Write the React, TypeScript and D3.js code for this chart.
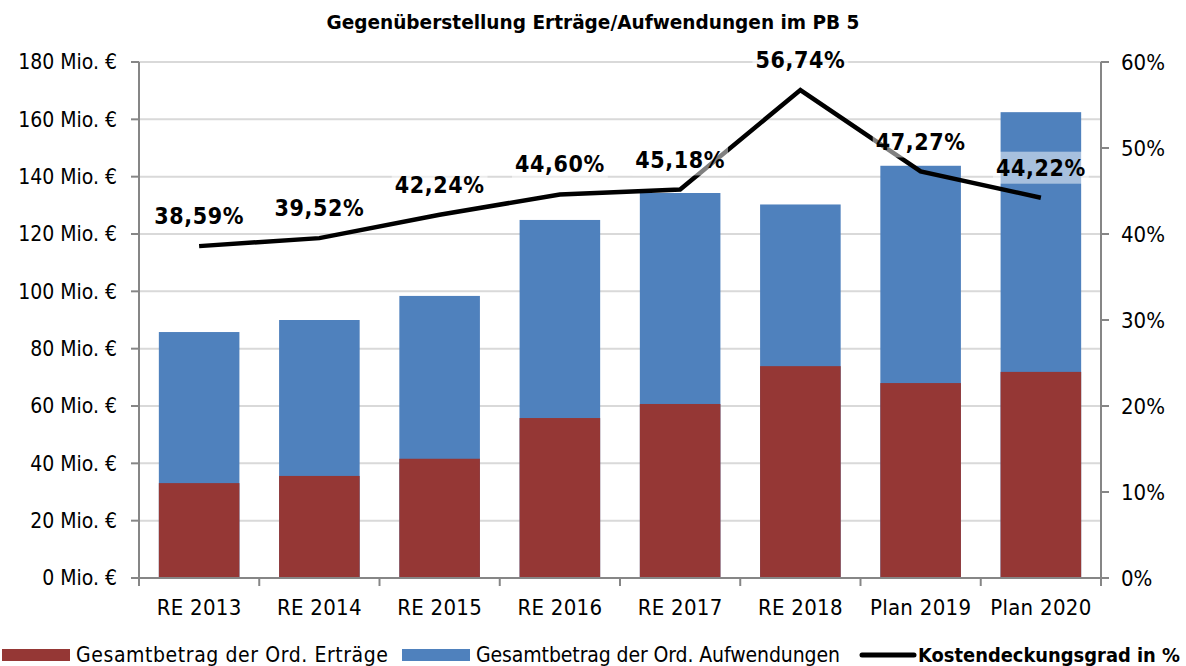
import React, { useEffect, useRef } from "react";
import * as d3 from "d3";

const categories = ["RE 2013", "RE 2014", "RE 2015", "RE 2016", "RE 2017", "RE 2018", "Plan 2019", "Plan 2020"];
const ertraege = [33.1, 35.6, 41.6, 55.8, 60.7, 73.9, 68.0, 71.9];
const aufwendungen = [85.8, 90.0, 98.4, 124.9, 134.3, 130.3, 143.8, 162.5];
const kostendeckung = [38.59, 39.52, 42.24, 44.6, 45.18, 56.74, 47.27, 44.22];
const leftTicks = [0, 20, 40, 60, 80, 100, 120, 140, 160, 180];
const rightTicks = [0, 10, 20, 30, 40, 50, 60];

const W = 1186;
const H = 666;
const FONT = "'DejaVu Sans Condensed', 'DejaVu Sans', sans-serif";

const App = () => {
  const svgRef = useRef<SVGSVGElement>(null);

  useEffect(() => {
    document.body.style.margin = "0";
    const svg = d3.select(svgRef.current);
    svg.selectAll("*").remove();

    const m = { left: 139, right: 85, top: 62, bottom: 88 };
    const x = d3.scaleBand().domain(categories).range([m.left, W - m.right]).paddingInner(0.33).paddingOuter(0.165);
    const xb = d3.scaleBand().domain(categories).range([m.left, W - m.right]);
    const y = d3.scaleLinear().domain([0, 180]).range([H - m.bottom, m.top]);
    const y2 = d3.scaleLinear().domain([0, 60]).range([H - m.bottom, m.top]);

    svg
      .append("text")
      .attr("x", W / 2)
      .attr("y", 29)
      .attr("text-anchor", "middle")
      .style("font-family", FONT)
      .style("font-size", "20px")
      .style("font-weight", "bold")
      .attr("textLength", 533)
      .attr("lengthAdjust", "spacingAndGlyphs")
      .text("Gegenüberstellung Erträge/Aufwendungen im PB 5");

    // gridlines
    svg
      .append("g")
      .selectAll("line")
      .data(leftTicks.filter((d) => d > 0))
      .enter()
      .append("line")
      .attr("x1", m.left)
      .attr("x2", W - m.right)
      .attr("y1", (d) => y(d))
      .attr("y2", (d) => y(d))
      .attr("stroke", "#d9d9d9")
      .attr("stroke-width", 2);

    // bars
    const bars = svg.append("g");
    bars
      .selectAll("rect.auf")
      .data(aufwendungen)
      .enter()
      .append("rect")
      .attr("x", (_, i) => x(categories[i]))
      .attr("width", x.bandwidth())
      .attr("y", (d) => y(d))
      .attr("height", (d) => y(0) - y(d))
      .attr("fill", "#4f81bd");
    bars
      .selectAll("rect.ert")
      .data(ertraege)
      .enter()
      .append("rect")
      .attr("x", (_, i) => x(categories[i]))
      .attr("width", x.bandwidth())
      .attr("y", (d) => y(d))
      .attr("height", (d) => y(0) - y(d))
      .attr("fill", "#953735");

    // axes
    const axisColor = "#868686";
    const gl = svg.append("g");
    gl.append("line").attr("x1", m.left).attr("x2", m.left).attr("y1", y(180)).attr("y2", y(0)).attr("stroke", axisColor).attr("stroke-width", 2);
    gl.append("line").attr("x1", W - m.right).attr("x2", W - m.right).attr("y1", y(180)).attr("y2", y(0)).attr("stroke", axisColor).attr("stroke-width", 2);
    gl.append("line").attr("x1", m.left).attr("x2", W - m.right).attr("y1", y(0)).attr("y2", y(0)).attr("stroke", axisColor).attr("stroke-width", 2);

    leftTicks.forEach((t) => {
      gl.append("line").attr("x1", m.left - 8).attr("x2", m.left).attr("y1", y(t)).attr("y2", y(t)).attr("stroke", axisColor).attr("stroke-width", 2);
      gl.append("text")
        .attr("x", m.left - 22)
        .attr("y", y(t))
        .attr("dy", "0.35em")
        .attr("text-anchor", "end")
        .style("font-family", FONT)
        .style("font-size", "21px")
        .text(`${t} Mio. €`);
    });
    rightTicks.forEach((t) => {
      gl.append("line").attr("x1", W - m.right).attr("x2", W - m.right + 8).attr("y1", y2(t)).attr("y2", y2(t)).attr("stroke", axisColor).attr("stroke-width", 2);
      gl.append("text")
        .attr("x", W - m.right + 20)
        .attr("y", y2(t))
        .attr("dy", "0.35em")
        .style("font-family", FONT)
        .style("font-size", "22px")
        .text(`${t}%`);
    });
    const bounds = categories.map((c) => xb(c)).concat([W - m.right]);
    bounds.forEach((b) => {
      gl.append("line").attr("x1", b).attr("x2", b).attr("y1", y(0)).attr("y2", y(0) + 8).attr("stroke", axisColor).attr("stroke-width", 2);
    });
    categories.forEach((c) => {
      gl.append("text")
        .attr("x", xb(c) + xb.bandwidth() / 2)
        .attr("y", 607)
        .attr("dy", "0.35em")
        .attr("text-anchor", "middle")
        .style("font-family", FONT)
        .style("font-size", "22px")
        .style("letter-spacing", "0.3px")
        .text(c);
    });

    // line
    const line = d3
      .line<number>()
      .x((_, i) => xb(categories[i]) + xb.bandwidth() / 2)
      .y((d) => y2(d));
    svg
      .append("path")
      .datum(kostendeckung)
      .attr("d", line)
      .attr("fill", "none")
      .attr("stroke", "#000")
      .attr("stroke-width", 4.5)
      .attr("stroke-linejoin", "miter");

    // labels
    const lg = svg.append("g");
    kostendeckung.forEach((v, i) => {
      const cx = xb(categories[i]) + xb.bandwidth() / 2;
      const cy = y2(v) - 30;
      const g = lg.append("g");
      const rect = g.append("rect");
      const txt = g
        .append("text")
        .attr("x", cx)
        .attr("y", cy)
        .attr("dy", "0.35em")
        .attr("text-anchor", "middle")
        .style("font-family", FONT)
        .style("font-size", "23px")
        .style("font-weight", "bold")
        .style("letter-spacing", "0.6px")
        .text(d3.format(".2f")(v).replace(".", ",") + "%");
      const bb = (txt.node() as SVGTextElement).getBBox();
      rect
        .attr("x", bb.x - 3)
        .attr("y", cy - 16)
        .attr("width", bb.width + 6)
        .attr("height", 32)
        .attr("fill", "#fff")
        .attr("fill-opacity", 0.5);
    });

    // legend
    const leg = svg.append("g").style("font-family", FONT).style("font-size", "21px");
    const ly = 655;
    leg.append("rect").attr("x", 2).attr("y", ly - 6).attr("width", 68).attr("height", 12).attr("fill", "#953735");
    leg.append("text").attr("x", 76).attr("y", ly).attr("dy", "0.35em").attr("textLength", 312).text("Gesamtbetrag der Ord. Erträge");
    leg.append("rect").attr("x", 402).attr("y", ly - 6).attr("width", 68).attr("height", 12).attr("fill", "#4f81bd");
    leg.append("text").attr("x", 476).attr("y", ly).attr("dy", "0.35em").attr("textLength", 364).text("Gesamtbetrag der Ord. Aufwendungen");
    leg.append("line").attr("x1", 862).attr("x2", 914).attr("y1", ly).attr("y2", ly).attr("stroke", "#000").attr("stroke-width", 5).attr("stroke-linecap", "round");
    leg
      .append("text")
      .attr("x", 918)
      .attr("y", ly)
      .attr("dy", "0.35em")
      .style("font-weight", "bold")
      .style("font-size", "20px")
      .attr("textLength", 262)
      .attr("lengthAdjust", "spacingAndGlyphs")
      .text("Kostendeckungsgrad in %");
  }, []);

  return <svg ref={svgRef} width={W} height={H} style={{ display: "block" }}></svg>;
};

export default App;
